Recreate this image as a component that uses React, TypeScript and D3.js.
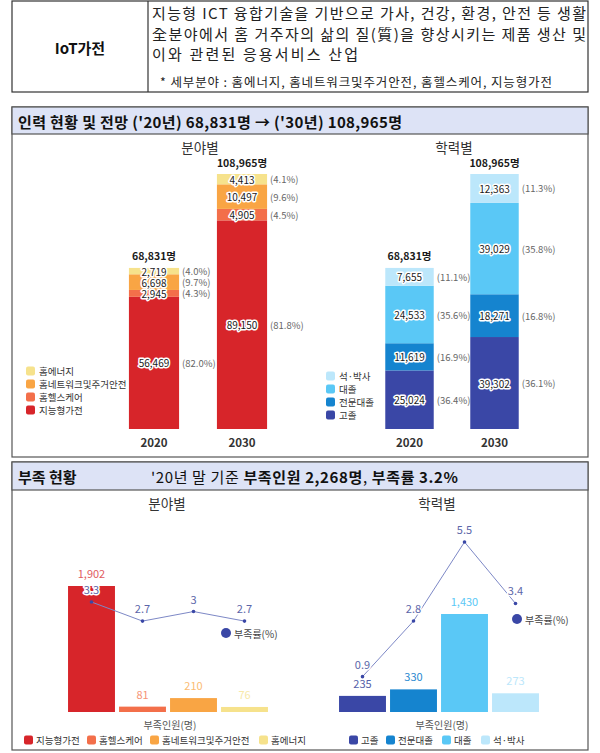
import React from "react";
import * as d3 from "d3";

const years = ["2020", "2030"];
const fieldCats = ["지능형가전", "홈헬스케어", "홈네트워크및주거안전", "홈에너지"];
const field2020 = [56469, 2945, 6698, 2719];
const field2030 = [89150, 4905, 10497, 4413];
const fieldPct2020 = ["82.0", "4.3", "9.7", "4.0"];
const fieldPct2030 = ["81.8", "4.5", "9.6", "4.1"];
const eduCats = ["고졸", "전문대졸", "대졸", "석·박사"];
const edu2020 = [25024, 11619, 24533, 7655];
const edu2030 = [39302, 18271, 39029, 12363];
const eduPct2020 = ["36.4", "16.9", "35.6", "11.1"];
const eduPct2030 = ["36.1", "16.8", "35.8", "11.3"];
const shortFieldN = [1902, 81, 210, 76];
const shortFieldRate = [3.3, 2.7, 3, 2.7];
const shortEduN = [235, 330, 1430, 273];
const shortEduRate = [0.9, 2.8, 5.5, 3.4];

const fieldColors = ["#d7252a", "#f36f4a", "#f9a544", "#f6e28c"];
const eduColors = ["#3a47a6", "#1584cf", "#5ac8f6", "#bce7fb"];
const FONT = "'Noto Sans CJK KR', 'Noto Sans', sans-serif";
const RATE = "#5b66a9";

const fmt = d3.format(",");

function Halo({ x, y, children, size = 10.5, weight = 400, anchor = "middle", fill = "#1a1a1a" }: any) {
  return (
    <text x={x} y={y} fontSize={size} fontWeight={weight} textAnchor={anchor} dominantBaseline="central"
      fill={fill} stroke="#fff" strokeWidth={3} strokeLinejoin="round" paintOrder="stroke">
      {children}
    </text>
  );
}

function Stacked({ data, pcts, colors, cats, range, legendX, legendY0 }: any) {
  const total = d3.max(data.map((d: number[]) => d3.sum(d))) as number;
  const y = d3.scaleLinear().domain([0, total]).range([429, 174]);
  const x = d3.scaleBand().domain(years).range(range).paddingInner(0.43).paddingOuter(0.215);
  const bw = x.bandwidth();
  return (
    <g>
      {years.map((yr, yi) => {
        const vals: number[] = data[yi];
        let acc = 0;
        const x0 = x(yr) as number;
        const segs = vals.map((v, i) => {
          const y0 = y(acc);
          acc += v;
          const y1 = y(acc);
          return { v, i, y0, y1 };
        });
        const tot = d3.sum(vals);
        return (
          <g key={yr}>
            {segs.map((s) => (
              <rect key={s.i} x={x0} y={s.y1} width={bw} height={s.y0 - s.y1} fill={colors[s.i]} />
            ))}
            {segs.map((s) => (
              <g key={"l" + s.i}>
                <Halo x={x0 + bw / 2} y={(s.y0 + s.y1) / 2} size={10}>{fmt(s.v)}</Halo>
                <text x={x0 + bw + 3} y={(s.y0 + s.y1) / 2} fontSize={9.5} fill="#666" dominantBaseline="central">
                  ({pcts[yi][s.i]}%)
                </text>
              </g>
            ))}
            <Halo x={x0 + bw / 2} y={y(tot) - 12} weight={700} size={10.5}>{fmt(tot) + "명"}</Halo>
            <text x={x0 + bw / 2} y={442} fontSize={11.5} fontWeight={700} fill="#333" textAnchor="middle" dominantBaseline="central">{yr}</text>
          </g>
        );
      })}
      {cats.slice().reverse().map((c: string, k: number) => {
        const i = cats.length - 1 - k;
        return (
          <g key={c}>
            <rect x={legendX} y={legendY0 + k * 13 - 4.5} width={9} height={9} rx={2} fill={colors[i]} />
            <text x={legendX + 13} y={legendY0 + k * 13} fontSize={9.5} fill="#333" dominantBaseline="central">{c}</text>
          </g>
        );
      })}
    </g>
  );
}

function Shortage({ counts, rates, colors, range, yMaxBar, barTop, rateDomain, rateRange, labelColors, cats, legendXs, rateLegend, axisX }: any) {
  const x = d3.scaleBand().domain(cats).range(range).paddingInner(0.08).paddingOuter(0.04);
  const y = d3.scaleLinear().domain([0, yMaxBar]).range([712, barTop]);
  const yr = d3.scaleLinear().domain(rateDomain).range(rateRange);
  const bw = x.bandwidth();
  const cx = (i: number) => (x(cats[i]) as number) + bw / 2;
  const line = d3.line<number>().x((_, i) => cx(i)).y((d) => yr(d));
  return (
    <g>
      {counts.map((v: number, i: number) => (
        <g key={i}>
          <rect x={x(cats[i])} y={y(v)} width={bw} height={712 - y(v)} fill={colors[i]} />
          <text x={cx(i)} y={y(v) - 13} fontSize={11} fill={labelColors[i]} textAnchor="middle" dominantBaseline="central">{fmt(v)}</text>
        </g>
      ))}
      <path d={line(rates) as string} fill="none" stroke="#7d88c6" strokeWidth={1} />
      {rates.map((r: number, i: number) => (
        <g key={"r" + i}>
          <circle cx={cx(i)} cy={yr(r)} r={1.8} fill="#3a47a6" />
          <Halo x={cx(i)} y={yr(r) - 13} size={11} fill={RATE}>{String(r)}</Halo>
        </g>
      ))}
      <circle cx={rateLegend[0]} cy={rateLegend[1]} r={5} fill="#3a47a6" />
      <text x={rateLegend[0] + 8} y={rateLegend[1]} fontSize={10} fill="#444" dominantBaseline="central">부족률(%)</text>
      <text x={axisX} y={724} fontSize={10} fill="#555" textAnchor="middle" dominantBaseline="central">부족인원(명)</text>
      {cats.map((c: string, i: number) => (
        <g key={"lg" + c}>
          <rect x={legendXs[i]} y={740 - 4.5} width={9} height={9} rx={2} fill={colors[i]} />
          <text x={legendXs[i] + 12} y={740} fontSize={9.5} fill="#333" dominantBaseline="central">{c}</text>
        </g>
      ))}
    </g>
  );
}

export default function App() {
  const lightField = fieldColors.map((c) => d3.interpolateRgb(c, "#ffffff")(0.25));
  const lightEdu = ["#5560a8", "#2a8ad0", "#5ac8f6", "#bce7fb"];
  return (
    <svg width={600} height={753} style={{ position: "absolute", left: 0, top: 0, background: "#fff" }} fontFamily={FONT}>
      <rect width={600} height={753} fill="#fff" />
      {/* Header table */}
      <rect x={12} y={1} width={576} height={91} fill="none" stroke="#333" strokeWidth={1.2} />
      <line x1={148} x2={148} y1={1} y2={92} stroke="#333" strokeWidth={1.2} />
      <text x={80} y={47} fontSize={15} fontWeight={700} textAnchor="middle" dominantBaseline="central" fill="#111">IoT가전</text>
      <text x={152} y={12} fontSize={15} fill="#222" dominantBaseline="central" textLength={434} lengthAdjust="spacing">지능형 ICT 융합기술을 기반으로 가사, 건강, 환경, 안전 등 생활</text>
      <text x={152} y={33} fontSize={15} fill="#222" dominantBaseline="central" textLength={434} lengthAdjust="spacing">全분야에서 홈 거주자의 삶의 질(質)을 향상시키는 제품 생산 및</text>
      <text x={152} y={53} fontSize={15} fill="#222" dominantBaseline="central" textLength={206} lengthAdjust="spacing">이와 관련된 응용서비스 산업</text>
      <text x={160} y={81} fontSize={12.5} fill="#222" dominantBaseline="central" textLength={392} lengthAdjust="spacing">* 세부분야 : 홈에너지, 홈네트워크및주거안전, 홈헬스케어, 지능형가전</text>

      {/* Section 1 */}
      <rect x={12} y={107} width={576} height={350} fill="none" stroke="#555" strokeWidth={1.2} />
      <rect x={12} y={107} width={576} height={27} fill="#dde3f6" stroke="#555" strokeWidth={1.2} />
      <text x={18} y={121} fontSize={15} fontWeight={700} fill="#111" dominantBaseline="central" textLength={384} lengthAdjust="spacing">인력 현황 및 전망  ('20년) 68,831명 → ('30년) 108,965명</text>
      <text x={200} y={147} fontSize={13.5} fill="#333" textAnchor="middle" dominantBaseline="central">분야별</text>
      <text x={454} y={147} fontSize={13.5} fill="#333" textAnchor="middle" dominantBaseline="central">학력별</text>
      <Stacked data={[field2020, field2030]} pcts={[fieldPct2020, fieldPct2030]} colors={fieldColors} cats={fieldCats}
        range={[110, 286]} legendX={26} legendY0={371} />
      <Stacked data={[edu2020, edu2030]} pcts={[eduPct2020, eduPct2030]} colors={eduColors} cats={eduCats}
        range={[367, 537]} legendX={326} legendY0={376} />

      {/* Section 2 */}
      <rect x={12} y={462} width={576} height={288} fill="none" stroke="#555" strokeWidth={1.2} />
      <rect x={12} y={462} width={576} height={28} fill="#dde3f6" stroke="#555" strokeWidth={1.2} />
      <text x={18} y={476} fontSize={15} fontWeight={700} fill="#111" dominantBaseline="central">부족 현황</text>
      <text x={151} y={476} fontSize={15} fill="#111" dominantBaseline="central" textLength={307} lengthAdjust="spacing">
        <tspan>'20년 말 기준 </tspan>
        <tspan fontWeight={700}>부족인원 2,268명</tspan>
        <tspan>, </tspan>
        <tspan fontWeight={700}>부족률 3.2%</tspan>
      </text>
      <text x={167} y={503} fontSize={13.5} fill="#333" textAnchor="middle" dominantBaseline="central">분야별</text>
      <text x={437} y={503} fontSize={13.5} fill="#333" textAnchor="middle" dominantBaseline="central">학력별</text>
      <Shortage counts={shortFieldN} rates={shortFieldRate} colors={fieldColors} cats={fieldCats}
        range={[66, 270]} yMaxBar={1902} barTop={586} rateDomain={[0, 3.3]} rateRange={[707, 602]} labelColors={lightField}
        legendXs={[24, 87, 150, 259]} rateLegend={[226, 633]} axisX={170} />
      <Shortage counts={shortEduN} rates={shortEduRate} colors={eduColors} cats={eduCats}
        range={[337, 541]} yMaxBar={1430} barTop={614} rateDomain={[0, 5.5]} rateRange={[703, 542]} labelColors={lightEdu}
        legendXs={[349, 386, 442, 481]} rateLegend={[517, 619]} axisX={442} />
    </svg>
  );
}
